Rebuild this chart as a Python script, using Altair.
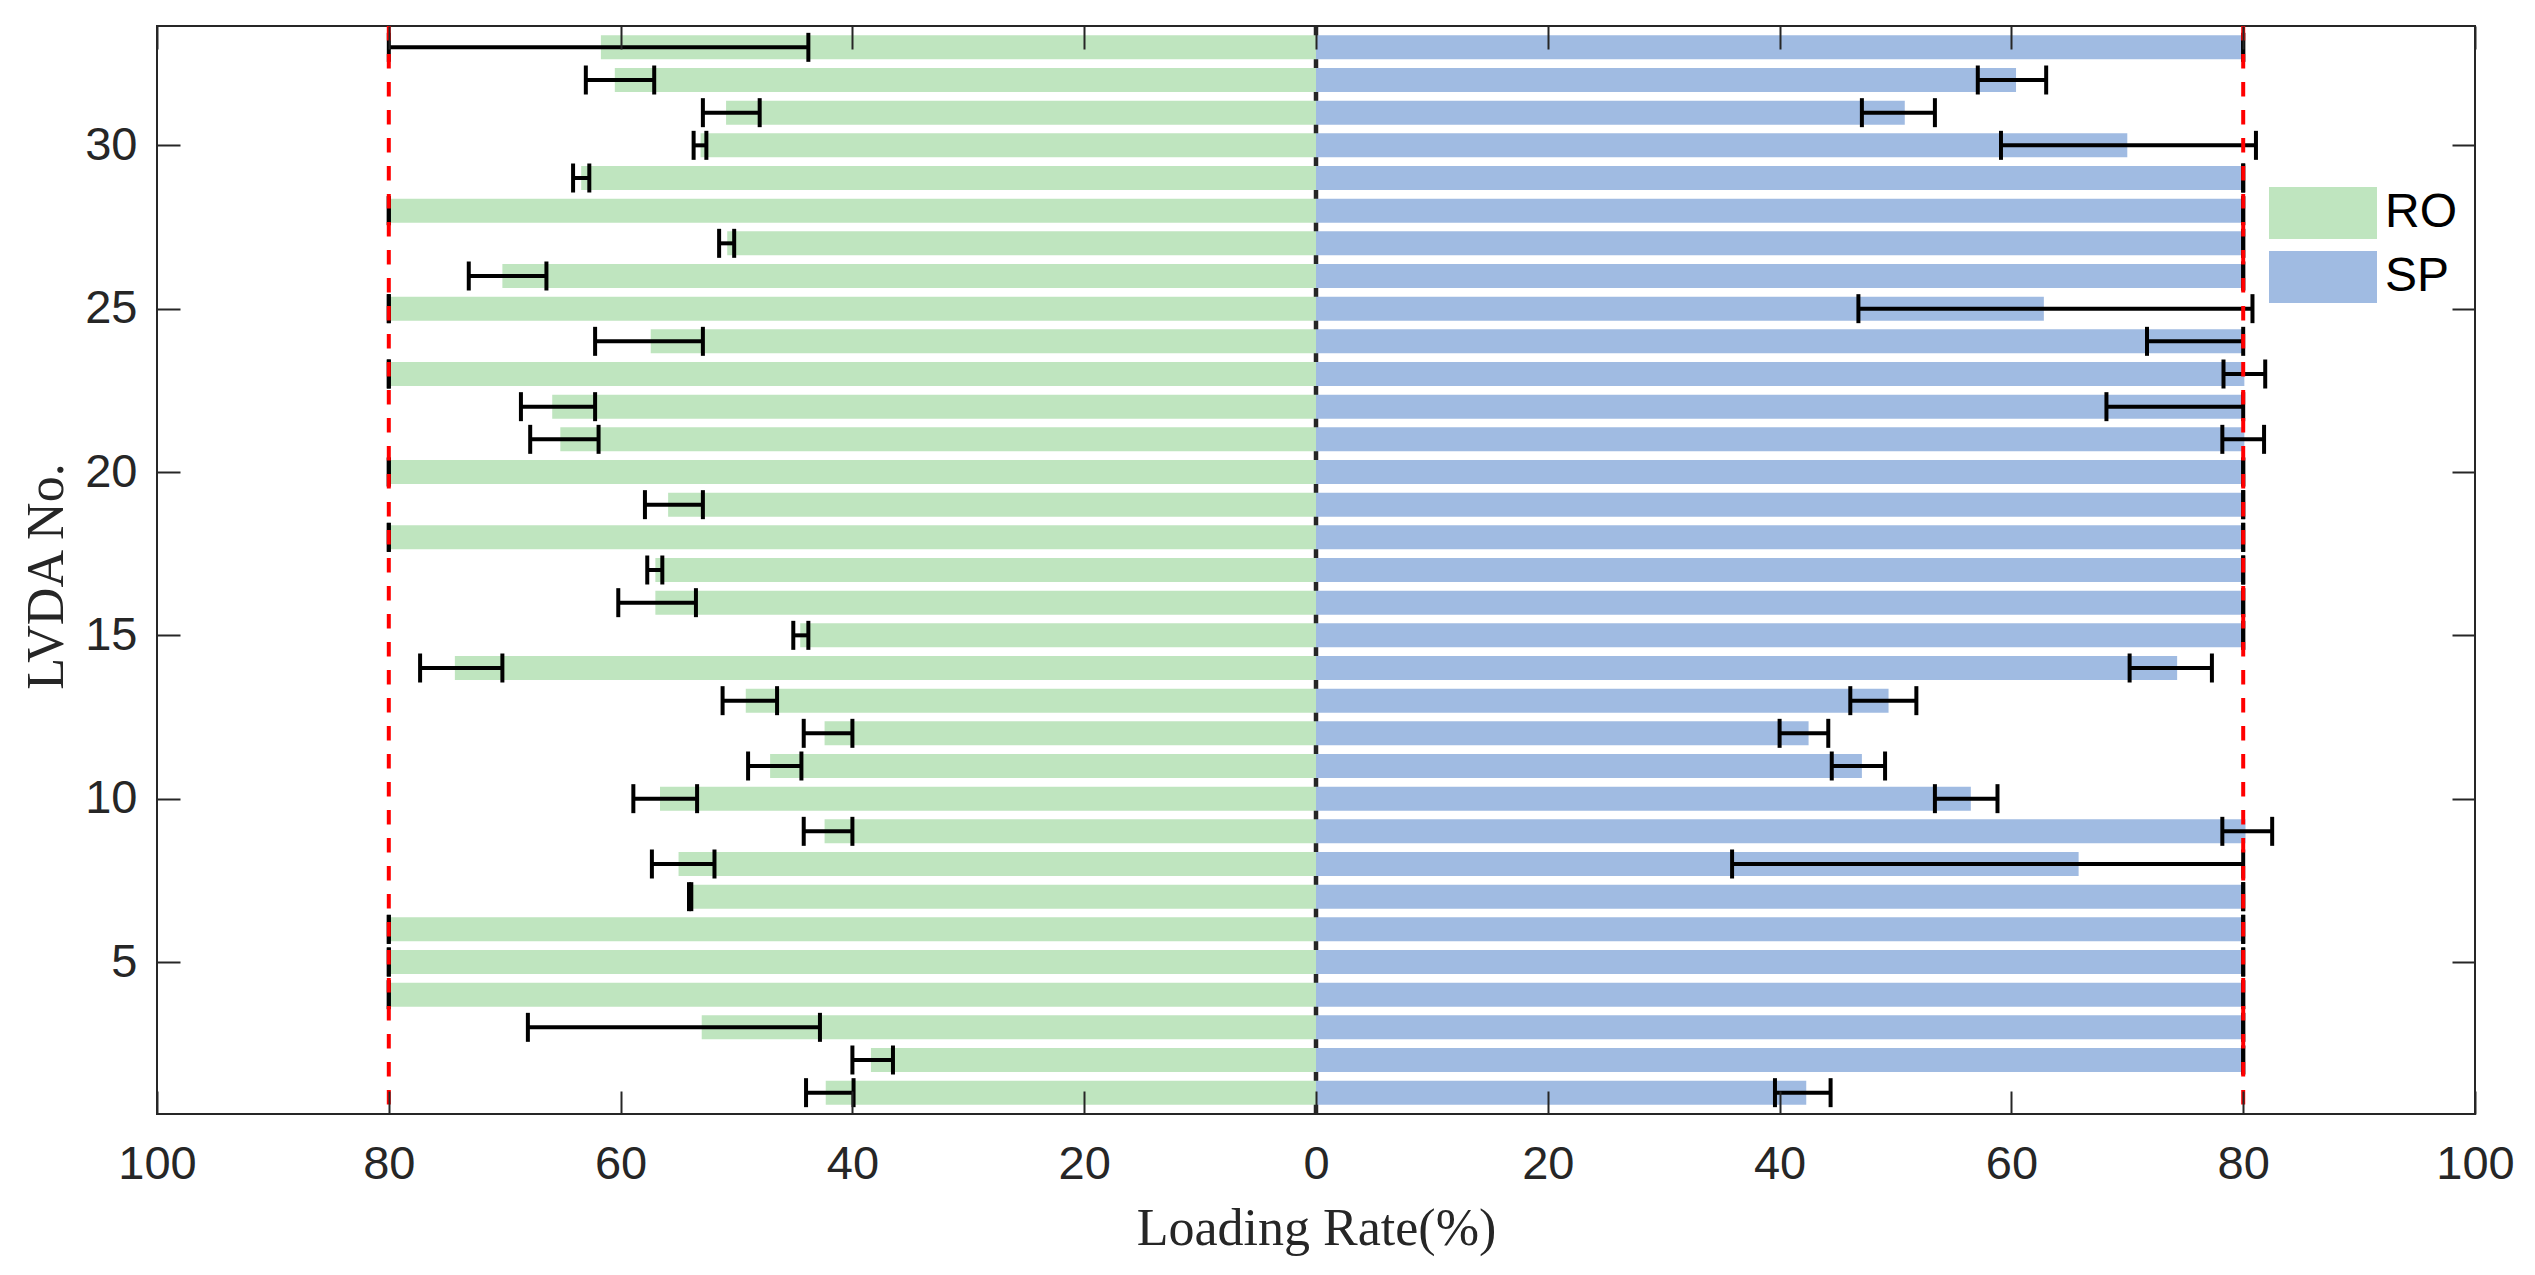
import altair as alt
import pandas as pd

# ---- data ----
rows = list(range(1, 34))
groups = ["RO", "SP"]
colors = ["#BFE5BF", "#A0BBE2"]

# RO (left side) magnitudes: bar value, error low end, error high end
ro_val = [42.3, 38.4, 53.0, 80.0, 80.0, 80.0, 54.0, 55.0, 42.4, 56.6, 47.1,
          42.4, 49.2, 74.3, 44.5, 57.0, 57.0, 80.0, 55.9, 80.0, 65.2, 65.9,
          80.0, 57.4, 80.0, 70.2, 50.8, 80.0, 63.4, 53.1, 50.9, 60.5, 61.7]
ro_lo = [39.9, 36.5, 42.8, 80.0, 80.0, 80.0, 53.9, 51.9, 40.0, 53.4, 44.4,
         40.0, 46.5, 70.2, 43.8, 53.5, 56.4, 80.0, 52.9, 80.0, 61.9, 62.2,
         80.0, 52.9, 80.0, 66.4, 50.2, 80.0, 62.7, 52.6, 48.0, 57.1, 43.8]
ro_hi = [44.0, 40.0, 68.0, 80.0, 80.0, 80.0, 54.1, 57.3, 44.2, 58.9, 49.0,
         44.2, 51.2, 77.3, 45.1, 60.2, 57.7, 80.0, 57.9, 80.0, 67.8, 68.6,
         80.0, 62.2, 80.0, 73.1, 51.5, 80.0, 64.1, 53.7, 52.9, 63.0, 80.0]

# SP (right side)
sp_val = [42.3, 80.0, 80.0, 80.0, 80.0, 80.0, 80.0, 65.8, 80.2, 56.5, 47.1,
          42.5, 49.4, 74.3, 80.0, 80.0, 80.0, 80.0, 80.0, 80.0, 80.1, 80.0,
          80.1, 80.0, 62.8, 80.0, 80.0, 80.0, 80.0, 70.0, 50.8, 60.4, 80.0]
sp_lo = [39.6, 80.0, 80.0, 80.0, 80.0, 80.0, 80.0, 35.9, 78.2, 53.4, 44.5,
         40.0, 46.1, 70.2, 80.0, 80.0, 80.0, 80.0, 80.0, 80.0, 78.2, 68.2,
         78.3, 71.7, 46.8, 80.0, 80.0, 80.0, 80.0, 59.1, 47.1, 57.1, 80.0]
sp_hi = [44.4, 80.0, 80.0, 80.0, 80.0, 80.0, 80.0, 80.0, 82.5, 58.8, 49.1,
         44.2, 51.8, 77.3, 80.0, 80.0, 80.0, 80.0, 80.0, 80.0, 81.8, 80.0,
         81.9, 80.0, 80.8, 80.0, 80.0, 80.0, 80.0, 81.1, 53.4, 63.0, 80.0]

x_ticks = [-100, -80, -60, -40, -20, 0, 20, 40, 60, 80, 100]
y_ticks = [5, 10, 15, 20, 25, 30]
limit_lines = [-80, 80]
zero_line = [0]

recs = []
for i, r in enumerate(rows):
    recs.append(dict(row=r, group="RO", value=-ro_val[i], lo=-ro_lo[i], hi=-ro_hi[i]))
    recs.append(dict(row=r, group="SP", value=sp_val[i], lo=sp_lo[i], hi=sp_hi[i]))
df = pd.DataFrame(recs)

AX = "#262626"
xscale = alt.Scale(domain=[-100, 100], nice=False, zero=False)
yscale = alt.Scale(domain=[0.5, 33.5], nice=False, zero=False)

bottom_axis = alt.Axis(
    orient="bottom", values=x_ticks, labelExpr="format(abs(datum.value), 'd')",
    title="Loading Rate(%)", domain=False, grid=False, tickSize=23, tickWidth=2,
    tickColor=AX, offset=-23, labelFont="Liberation Sans", labelFontSize=47,
    labelColor=AX, labelPadding=27, labelFlush=False, labelOverlap=False,
    titleFont="Liberation Serif", titleFontSize=52, titleFontWeight="normal",
    titleColor=AX, titleX=1159, titleY=153, titleBaseline="alphabetic",
    titleAlign="center", zindex=1)
left_axis = alt.Axis(
    orient="left", values=y_ticks, title="LVDA No.", domain=False, grid=False,
    tickSize=23, tickWidth=2, tickColor=AX, offset=-23,
    labelFont="Liberation Sans", labelFontSize=47, labelColor=AX,
    labelPadding=20, labelOverlap=False, labelFlush=False,
    titleFont="Liberation Serif", titleFontSize=52, titleFontWeight="normal",
    titleColor=AX, titleX=-118, titleY=550, titleAngle=270,
    titleBaseline="alphabetic", titleAlign="center", zindex=1)
top_axis = alt.Axis(
    orient="top", values=x_ticks, title="", labels=False, domain=False, grid=False,
    tickSize=23, tickWidth=2, tickColor=AX, offset=-23, zindex=1)
right_axis = alt.Axis(
    orient="right", values=y_ticks, title="", labels=False, domain=False, grid=False,
    tickSize=23, tickWidth=2, tickColor=AX, offset=-23, zindex=1)

zero = alt.Chart(pd.DataFrame({"x": zero_line})).mark_rule(
    color=AX, strokeWidth=4.5).encode(x=alt.X("x:Q", scale=xscale, axis=None))

# legend symbol: a 108 x 52 px rectangle drawn from a 52 px "size" box
bars = alt.Chart(df).mark_bar(size=24, opacity=1).encode(
    x=alt.X("value:Q", scale=xscale, axis=bottom_axis),
    x2=alt.datum(0),
    y=alt.Y("row:Q", scale=yscale, axis=left_axis),
    color=alt.Color(
        "group:N", scale=alt.Scale(domain=groups, range=colors),
        legend=alt.Legend(
            title=None, orient="none", legendX=2140, legendY=161,
            symbolType="M-2.077,-1H2.077V1H-2.077Z", symbolSize=2704,
            symbolStrokeWidth=0, symbolOpacity=1, labelFont="Liberation Sans",
            labelFontSize=48, labelColor="black", labelOffset=36, rowPadding=12,
            padding=0)),
)

err = alt.Chart(df).mark_rule(color="black", strokeWidth=4).encode(
    x=alt.X("lo:Q", scale=xscale, axis=top_axis),
    x2="hi:Q",
    y=alt.Y("row:Q", scale=yscale, axis=right_axis),
)

caps = alt.Chart(df).transform_fold(["lo", "hi"], as_=["end", "pos"]).mark_tick(
    orient="vertical", size=29, thickness=4, color="black", opacity=1).encode(
    x=alt.X("pos:Q", scale=xscale, axis=None),
    y=alt.Y("row:Q", scale=yscale, axis=None),
)

red = alt.Chart(pd.DataFrame({"x": limit_lines})).mark_rule(
    color="#FF0000", strokeWidth=4, strokeDash=[14.5, 13.5]).encode(
    x=alt.X("x:Q", scale=xscale, axis=None))

chart = alt.layer(zero, bars, err, caps, red).resolve_axis(
    x="independent", y="independent"
).properties(
    width=2318, height=1088,
    autosize=alt.AutoSizeParams(type="none"),
    padding={"left": 149, "top": 18, "right": 52, "bottom": 150},
    background="white",
).configure_view(stroke=AX, strokeWidth=2)

chart.save("out.html", embed_options={"renderer": "svg", "actions": False})
